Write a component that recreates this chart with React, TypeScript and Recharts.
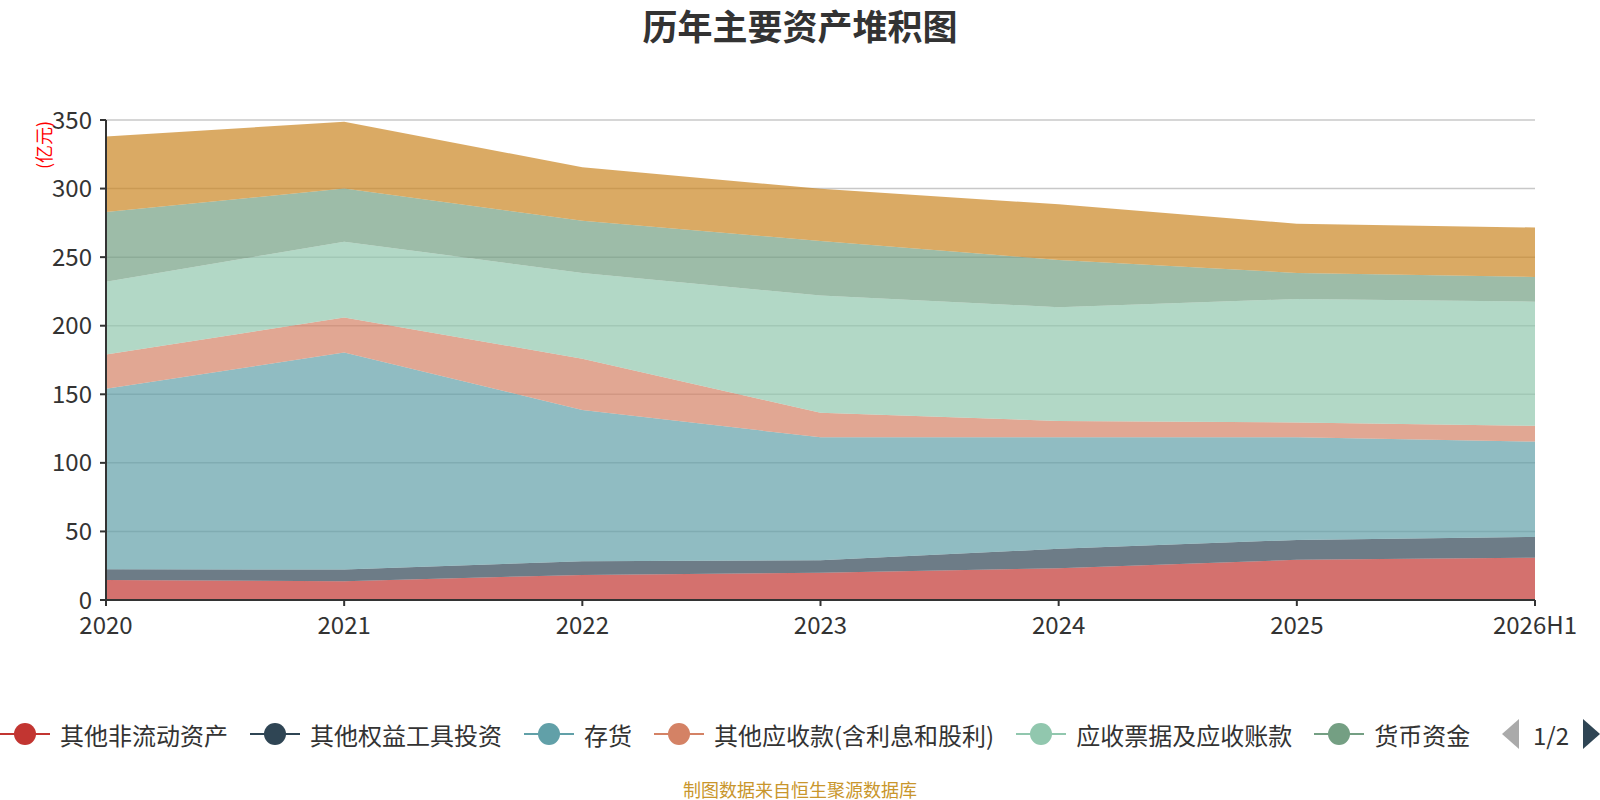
import React from 'react';
import { AreaChart, Area, XAxis, YAxis, CartesianGrid } from 'recharts';

const years = ['2020', '2021', '2022', '2023', '2024', '2025', '2026H1'];

// 亿元
const otherNonCurrent = [14.6, 13.7, 18.3, 19.9, 23.2, 29.3, 30.8];
const otherEquity = [7.8, 8.5, 10.0, 9.1, 14.1, 14.5, 15.2];
const inventory = [131.6, 158.2, 110.2, 89.6, 81.3, 74.8, 69.5];
const otherReceivables = [25.0, 25.6, 37.5, 17.9, 11.9, 10.9, 11.5];
const notesReceivable = [53.0, 55.3, 62.5, 85.5, 83.0, 90.0, 90.5];
const cash = [51.0, 38.7, 38.0, 39.8, 34.5, 19.0, 18.0];
const fixedAssets = [55.0, 48.8, 39.0, 38.0, 40.5, 35.8, 36.1];

const yTicks = [0, 50, 100, 150, 200, 250, 300, 350];

const series = [
  { key: 's1', name: '其他非流动资产', color: '#c23531', values: otherNonCurrent },
  { key: 's2', name: '其他权益工具投资', color: '#2f4554', values: otherEquity },
  { key: 's3', name: '存货', color: '#61a0a8', values: inventory },
  { key: 's4', name: '其他应收款(含利息和股利)', color: '#d48265', values: otherReceivables },
  { key: 's5', name: '应收票据及应收账款', color: '#91c7ae', values: notesReceivable },
  { key: 's6', name: '货币资金', color: '#749f83', values: cash },
  { key: 's7', name: '固定资产', color: '#ca8622', values: fixedAssets },
];

const rows = years.map((year, i) => {
  const row: Record<string, any> = { year };
  series.forEach((s) => {
    row[s.key] = s.values[i];
  });
  return row;
});

const FONT = "'Noto Sans CJK SC', 'Noto Sans', sans-serif";

const UnitLabel = (props: any) => {
  const vb = props.viewBox || { x: 16, y: 120 };
  const cx = vb.x + 27;
  const cy = vb.y + 25;
  return (
    <text
      x={cx}
      y={cy}
      transform={`rotate(-90 ${cx} ${cy})`}
      textAnchor="middle"
      dominantBaseline="central"
      fill="#ff0000"
      fontSize={18}
      fontFamily={FONT}
    >
      (亿元)
    </text>
  );
};

const LegendBar = () => (
  <div
    style={{
      position: 'absolute',
      left: 0,
      top: 718,
      width: 1600,
      height: 32,
      display: 'flex',
      alignItems: 'center',
      fontFamily: FONT,
      fontSize: 24,
      color: '#333',
      whiteSpace: 'nowrap',
    }}
  >
    {series.slice(0, 6).map((s) => (
      <div key={s.key} style={{ display: 'flex', alignItems: 'center', marginRight: 22 }}>
        <svg width={50} height={24} style={{ marginRight: 10 }}>
          <line x1={0} y1={12} x2={50} y2={12} stroke={s.color} strokeWidth={2} />
          <circle cx={25} cy={12} r={11} fill={s.color} />
        </svg>
        <span>{s.name}</span>
      </div>
    ))}
    <div style={{ position: 'absolute', left: 1502, top: 0, display: 'flex', alignItems: 'center', height: 32 }}>
      <svg width={18} height={30}>
        <polygon points="17,0 17,30 0,15" fill="#aaa" />
      </svg>
      <span style={{ margin: '0 14px 0 13px' }}>1/2</span>
      <svg width={18} height={30}>
        <polygon points="0,0 0,30 17,15" fill="#2f4554" />
      </svg>
    </div>
  </div>
);

export default function App() {
  return (
    <div style={{ position: 'absolute', left: 0, top: 0, width: 1600, height: 800, background: '#fff', fontFamily: FONT }}>
      <div
        style={{
          position: 'absolute',
          left: 0,
          top: 0,
          width: 1600,
          lineHeight: '50px',
          textAlign: 'center',
          fontSize: 35,
          fontWeight: 'bold',
          color: '#333',
        }}
      >
        历年主要资产堆积图
      </div>
      <AreaChart width={1600} height={800} data={rows} margin={{ top: 120, right: 65, left: 16, bottom: 160 }}>
        <CartesianGrid vertical={false} stroke="#c8c8c8" strokeWidth={1.5} />
        <XAxis
          dataKey="year"
          interval={0}
          height={40}
          tickSize={6}
          tickMargin={11}
          axisLine={{ stroke: '#333', strokeWidth: 2 }}
          tickLine={{ stroke: '#333', strokeWidth: 2 }}
          tick={{ fill: '#333', fontSize: 24, fontFamily: FONT }}
        />
        <YAxis
          width={90}
          domain={[0, 350]}
          ticks={yTicks}
          interval={0}
          tickSize={6}
          tickMargin={8}
          axisLine={{ stroke: '#333', strokeWidth: 2 }}
          tickLine={{ stroke: '#333', strokeWidth: 2 }}
          tick={{ fill: '#333', fontSize: 24, fontFamily: FONT }}
          label={<UnitLabel />}
        />
        {series.map((s) => (
          <Area
            key={s.key}
            type="linear"
            dataKey={s.key}
            name={s.name}
            stackId="assets"
            stroke="none"
            fill={s.color}
            fillOpacity={0.7}
            dot={false}
            activeDot={false}
            isAnimationActive={false}
          />
        ))}
      </AreaChart>
      <LegendBar />
      <div
        style={{
          position: 'absolute',
          left: 0,
          top: 778,
          width: 1600,
          textAlign: 'center',
          fontSize: 18,
          lineHeight: '22px',
          color: '#c9962c',
        }}
      >
        制图数据来自恒生聚源数据库
      </div>
    </div>
  );
}
